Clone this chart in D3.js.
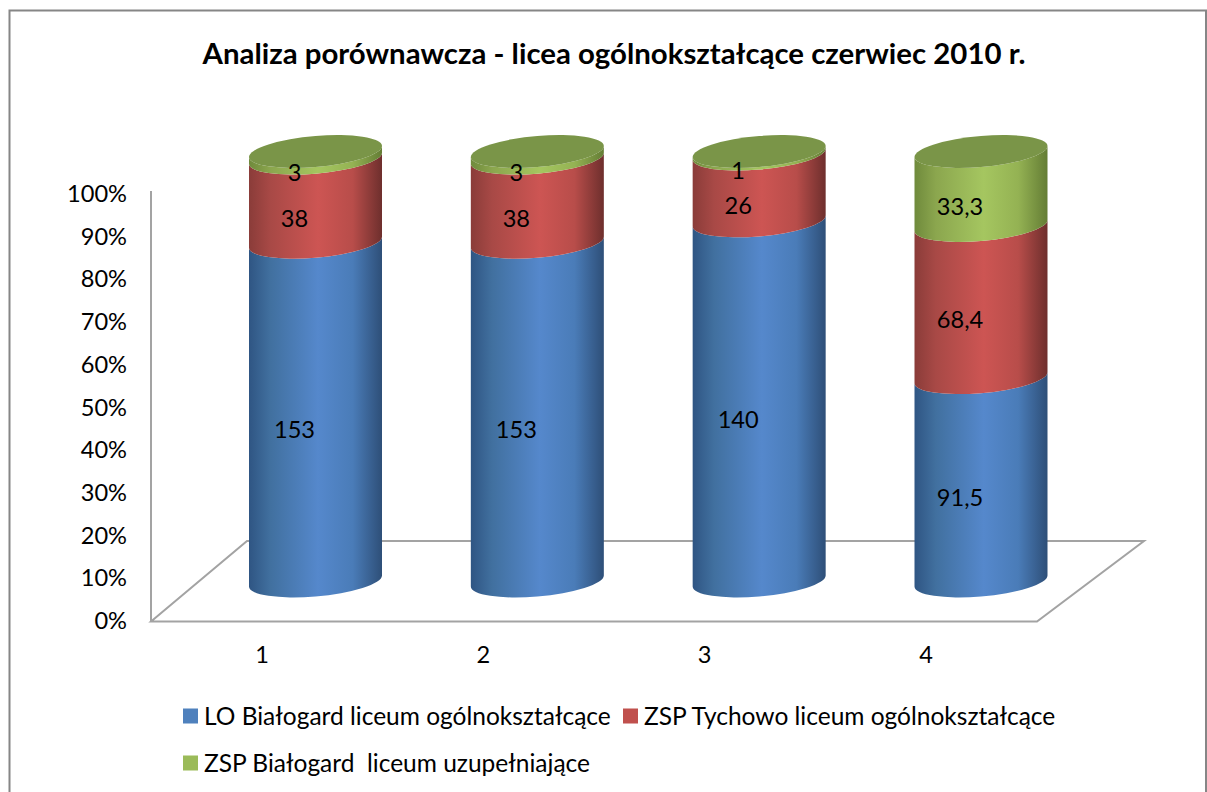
<!DOCTYPE html>
<html><head><meta charset="utf-8">
<script src="https://cdn.jsdelivr.net/npm/d3@7"></script>
<style>html,body{margin:0;background:#fff}svg{display:block}text{font-family:Lato,sans-serif;fill:#000}</style>
</head><body><svg id="c" width="1207" height="792"></svg>
<script>
const title = "Analiza porównawcza - licea ogólnokształcące czerwiec 2010 r.";
const categories = ["1","2","3","4"];
const seriesNames = ["LO Białogard liceum ogólnokształcące","ZSP Tychowo liceum ogólnokształcące","ZSP Białogard  liceum uzupełniające"];
const loValues = [153,153,140,91.5];
const tychowoValues = [38,38,26,68.4];
const bialogardValues = [3,3,1,33.3];
const valueLabels = [["153","153","140","91,5"],["38","38","26","68,4"],["3","3","1","33,3"]];
const percentTicks = [0,10,20,30,40,50,60,70,80,90,100];
const swatch = ["#4f81bd","#c0504d","#9bbb59"];
const shades = [
 ["#2f5583","#41709f","#5588cc","#4a7cb8","#2e4f78"],
 ["#8a3c39","#a84946","#cd5553","#b84d4a","#6e2f2d"],
 ["#6f8a3c","#8ba64e","#a5c660","#94b253","#647d35"]];
const capColor = "#7a9548";

const svg = d3.select("#c");
const defs = svg.append("defs");
shades.forEach((s,i)=>{
  const g = defs.append("linearGradient").attr("id","g"+i).attr("x1",0).attr("x2",1).attr("y1",0).attr("y2",0);
  [0,.16,.52,.78,1].forEach((o,j)=>g.append("stop").attr("offset",o).attr("stop-color",s[j]));
});

// frame
svg.append("path").attr("d","M9.5,800V10.5H1206V800").attr("fill","none").attr("stroke","#868686").attr("stroke-width",2);
svg.append("text").attr("x",614).attr("y",64).attr("text-anchor","middle").attr("font-size",29.4).attr("font-weight",700).text(title);

// scales
const xCol = d3.scalePoint().domain(categories).range([315.5,981]);
const xTick = d3.scalePoint().domain(categories).range([262,926]);
const yCyl = d3.scaleLinear().domain([0,47.4,83,100]).range([581,377.5,224.5,151.5]);
const yAxis = d3.scaleLinear().domain([0,100]).range([620,193]);

// floor and axis
const gray = "#a3a3a3";
svg.append("path").attr("d","M151,621.5L247,541H1144L1037,621.5Z").attr("fill","none").attr("stroke",gray).attr("stroke-width",2);
svg.append("path").attr("d","M151,191V621").attr("fill","none").attr("stroke",gray).attr("stroke-width",2);

const axisG = svg.append("g").attr("transform","translate(127,0)")
  .call(d3.axisLeft(yAxis).tickValues(percentTicks).tickFormat(d=>d+"%").tickSize(0).tickPadding(0));
axisG.select(".domain").remove();
axisG.selectAll("text").attr("font-size",23.6).attr("font-family","Lato").attr("dy","0.36em");

// cylinders
const rx = 66.5, ry = 15.5, skew = 5.5/66.5;
const series = [loValues,tychowoValues,bialogardValues];
categories.forEach((c,ci)=>{
  const tot = d3.sum(series,s=>s[ci]);
  const g = svg.append("g").attr("transform",`matrix(1,${-skew},0,1,${xCol(c)},0)`);
  let cum = 0;
  const segs = series.map((s,si)=>{const a=cum/tot*100; cum+=s[ci]; return {si,a,b:cum/tot*100};});
  segs.forEach(d=>{
    const y0=yCyl(d.a), y1=yCyl(d.b);
    g.append("path")
     .attr("d",`M${-rx},${y1}A${rx},${ry} 0 0 0 ${rx},${y1}V${y0}A${rx},${ry} 0 0 1 ${-rx},${y0}Z`)
     .attr("fill",`url(#g${d.si})`);
  });
  g.append("ellipse").attr("cx",0).attr("cy",yCyl(100)).attr("rx",rx).attr("ry",ry).attr("fill",capColor);
  segs.forEach(d=>{
    const m=(d.a+d.b)/2;
    svg.append("text").attr("x",xCol(c)-21).attr("y",yCyl(m)+18).attr("dy","0.36em")
      .attr("text-anchor","middle").attr("font-size",23.6).text(valueLabels[d.si][ci]);
  });
});

// category labels
svg.append("g").selectAll("text").data(categories).join("text")
  .attr("x",d=>xTick(d)).attr("y",655).attr("dy","0.36em").attr("text-anchor","middle").attr("font-size",23.6).text(d=>d);

// legend
const legendX = [183,623,183], legendY = [716,716,763];
seriesNames.forEach((n,i)=>{
  svg.append("rect").attr("x",legendX[i]).attr("y",legendY[i]-7.5).attr("width",15).attr("height",15).attr("fill",swatch[i]);
  svg.append("text").attr("x",legendX[i]+21).attr("y",legendY[i]).attr("dy","0.36em").attr("font-size",24.5).style("white-space","pre").text(n);
});
</script></body></html>
